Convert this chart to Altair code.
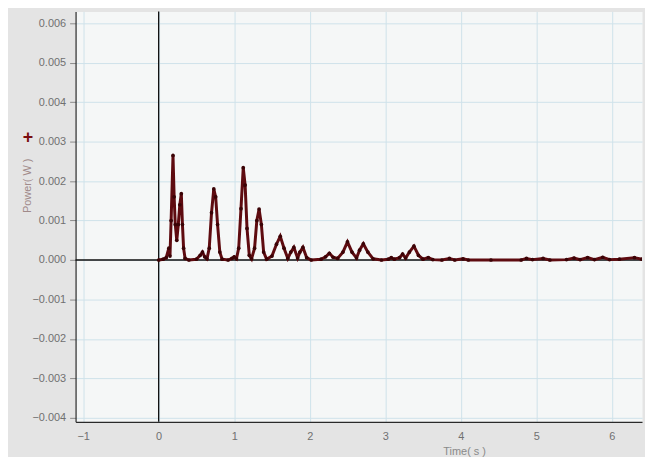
import altair as alt
import pandas as pd

# Power trace (time in s, power in W)
time_s = [0.00, 0.06, 0.10, 0.135, 0.15, 0.165, 0.19, 0.205, 0.22, 0.24, 0.26, 0.28, 0.30, 0.315, 0.33, 0.35,
          0.40, 0.50, 0.55, 0.58, 0.61, 0.64, 0.67, 0.70, 0.73, 0.755, 0.78, 0.81, 0.84,
          0.92, 0.97, 1.00, 1.03, 1.06, 1.09, 1.12, 1.145, 1.17, 1.20, 1.23, 1.27, 1.30, 1.33, 1.36, 1.39, 1.43,
          1.50, 1.56, 1.61, 1.66, 1.71, 1.75, 1.79, 1.84, 1.87, 1.91, 1.96, 2.02,
          2.15, 2.21, 2.26, 2.31, 2.37, 2.44, 2.50, 2.56, 2.62, 2.66, 2.71, 2.77, 2.84, 2.95,
          3.04, 3.08, 3.12, 3.19, 3.23, 3.27, 3.32, 3.38, 3.44, 3.50, 3.57, 3.63, 3.75, 3.85, 3.92,
          4.03, 4.10, 4.40, 4.80, 4.87, 4.95, 5.09, 5.18, 5.40, 5.50, 5.58, 5.68, 5.77, 5.88, 5.97,
          6.10, 6.30, 6.40]
power_w = [0.0, 0.00002, 0.00006, 0.00030, 0.00010, 0.0010, 0.00265, 0.0016, 0.0009, 0.0005, 0.0009, 0.0014, 0.00168, 0.0009, 0.0003, 0.00004,
           0.0, 0.00002, 0.00012, 0.00020, 0.00008, 0.00003, 0.0003, 0.0012, 0.00180, 0.0016, 0.0009, 0.0002, 0.00002,
           0.0, 0.00004, 0.00008, 0.00003, 0.0003, 0.0013, 0.00234, 0.0019, 0.0008, 0.00012, 0.00003, 0.0003, 0.0010, 0.00129, 0.0009, 0.0002, 0.00002,
           0.0001, 0.0004, 0.00060, 0.0003, 0.00004, 0.0002, 0.00032, 0.00005, 0.0002, 0.00032, 0.00006, 0.0,
           0.00002, 0.00008, 0.00017, 0.00007, 0.00004, 0.0002, 0.00046, 0.0002, 0.00005, 0.00025, 0.00041, 0.0002, 0.00003, 0.0,
           0.00002, 0.00006, 0.00002, 0.00006, 0.00015, 0.00005, 0.0002, 0.00035, 0.00012, 0.00002, 0.00006, 0.00001, 0.0, 0.00004, 0.0,
           0.00003, 0.0, 0.0, 0.0, 0.00004, 0.00001, 0.00004, 0.0, 0.00001, 0.00005, 0.00001, 0.00006, 0.00001, 0.00007, 0.00001,
           0.00002, 0.00006, 0.00002]

x_ticks = [-1, 0, 1, 2, 3, 4, 5, 6]
y_ticks = [-0.004, -0.003, -0.002, -0.001, 0.0, 0.001, 0.002, 0.003, 0.004, 0.005, 0.006]

df = pd.DataFrame({"time": time_s, "power": power_w})

xscale = alt.Scale(domain=[-1.1, 6.4], nice=False, zero=False)
yscale = alt.Scale(domain=[-0.0041, 0.0063], nice=False, zero=False)

x_axis = alt.Axis(values=x_ticks, title="Time( s )", titleX=391, titleY=33,
                  titleBaseline="alphabetic", ticks=False, labelPadding=9, format="d")
y_axis = alt.Axis(values=y_ticks, title="Power( W )", titleX=-48, titleY=175,
                  titleBaseline="middle", format=".3f", tickSize=6, labelPadding=4,
                  titleColor="#a08a8a")

line = alt.Chart(df).mark_line(color="#5e0b10", strokeWidth=3, clip=True).encode(
    x=alt.X("time:Q", scale=xscale, axis=x_axis),
    y=alt.Y("power:Q", scale=yscale, axis=y_axis),
)
pts = alt.Chart(df).mark_circle(color="#3a0306", size=14, opacity=1, clip=True).encode(
    x=alt.X("time:Q", scale=xscale, axis=x_axis),
    y=alt.Y("power:Q", scale=yscale, axis=y_axis),
)
zero_h = alt.Chart(pd.DataFrame({"power": [0.0]})).mark_rule(color="#111111", strokeWidth=1.3).encode(
    y=alt.Y("power:Q", scale=yscale, axis=y_axis)
)
zero_v = alt.Chart(pd.DataFrame({"time": [0.0]})).mark_rule(color="#111111", strokeWidth=1.3).encode(
    x=alt.X("time:Q", scale=xscale, axis=x_axis)
)
plus = alt.Chart(pd.DataFrame({"t": ["+"]})).mark_text(
    color="#7a0d10", fontSize=18, fontWeight="bold", font="Liberation Sans"
).encode(text="t:N", x=alt.value(-48), y=alt.value(127))

chart = alt.layer(zero_h, zero_v, line, pts, plus).properties(
    width=570,
    height=413,
    background="#e4e4e4",
    padding={"left": 68, "top": 2, "right": 3, "bottom": 34},
    autosize=alt.AutoSizeParams(type="none"),
).configure_view(
    fill="#f5f7f7", stroke="transparent"
).configure_axis(
    labelFont="Liberation Sans", labelColor="#707070", labelFontSize=11,
    titleFont="Liberation Sans", titleColor="#8a8a8a", titleFontSize=11, titleFontWeight="normal",
    gridColor="#cfe2ea", gridWidth=1, domainColor="#2a2a2a", domainWidth=1.2, tickColor="#8a8a8a",
)

chart.save("out.html", embed_options={"renderer": "svg", "actions": False})
